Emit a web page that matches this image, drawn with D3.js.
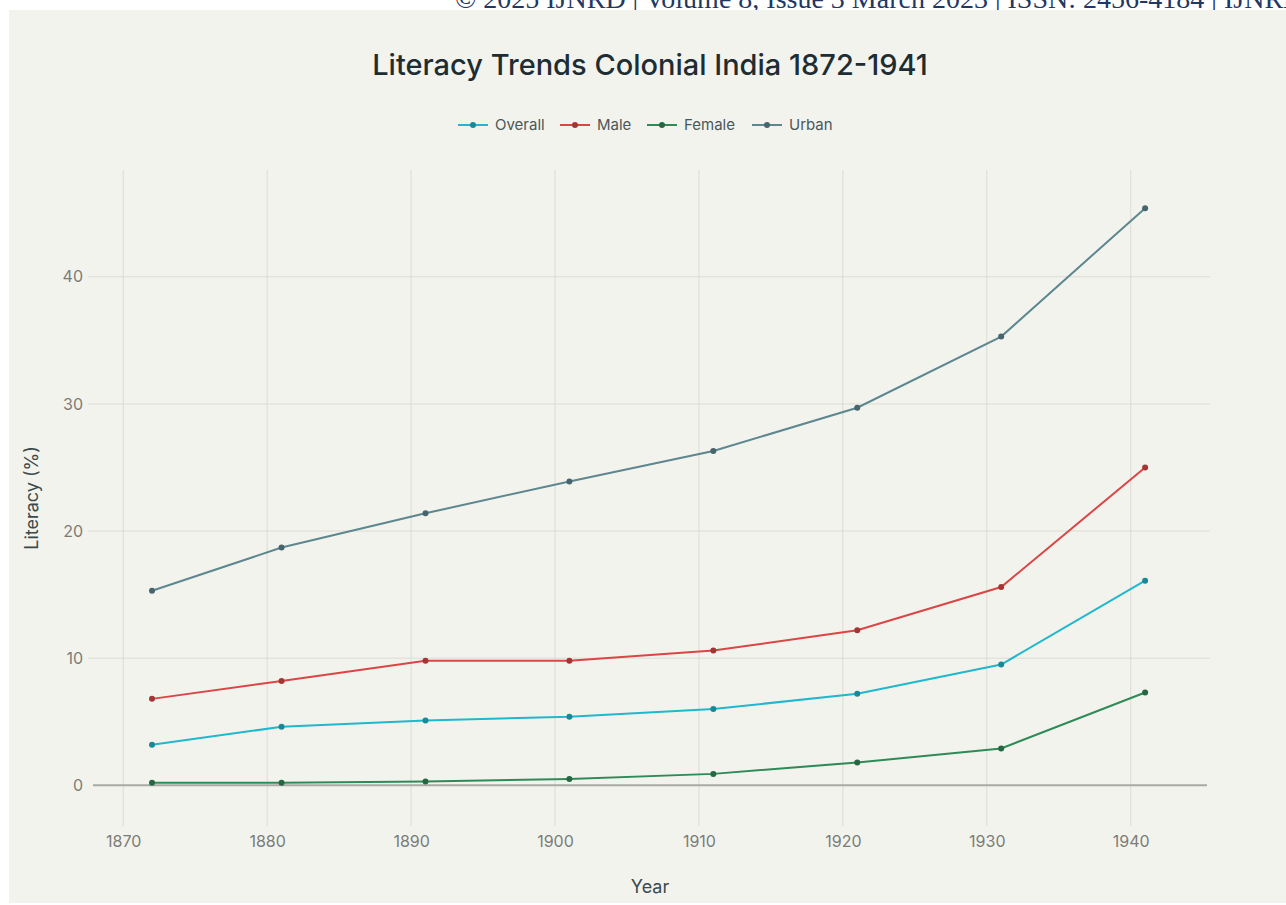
<!DOCTYPE html>
<html>
<head>
<meta charset="utf-8">
<script src="https://cdn.jsdelivr.net/npm/d3@7"></script>
<style>
  body { margin: 0; background: #fff; }
  svg { display: block; }
  .tick text { font-family: Inter, "Noto Sans", sans-serif; }
</style>
</head>
<body>
<svg id="chart" width="1286" height="905"></svg>
<script>
// census years and literacy values (%)
const years = [1872, 1881, 1891, 1901, 1911, 1921, 1931, 1941];
const overall = [3.2, 4.6, 5.1, 5.4, 6.0, 7.2, 9.5, 16.1];
const male = [6.8, 8.2, 9.8, 9.8, 10.6, 12.2, 15.6, 25.0];
const female = [0.2, 0.2, 0.3, 0.5, 0.9, 1.8, 2.9, 7.3];
const urban = [15.3, 18.7, 21.4, 23.9, 26.3, 29.7, 35.3, 45.4];
const seriesNames = ["Overall", "Male", "Female", "Urban"];
const seriesColors = ["#1FB8CD", "#DB4545", "#2E8B57", "#5D878F"];
const xTicks = [1870, 1880, 1890, 1900, 1910, 1920, 1930, 1940];
const yTicks = [0, 10, 20, 30, 40];

const series = [overall, male, female, urban].map((vals, i) => ({
  name: seriesNames[i],
  color: seriesColors[i],
  values: vals.map((v, j) => ({ year: years[j], value: v }))
}));

const width = 1286;
const height = 905;
const margin = { top: 170, right: 79, bottom: 79, left: 93 };
const innerWidth = width - margin.left - margin.right;
const innerHeight = height - margin.top - margin.bottom;

const svg = d3.select("#chart");

// page header (cut off at top, like the scan)
svg.append("text")
  .attr("x", 455)
  .attr("y", 8)
  .attr("font-family", "'Liberation Serif', 'DejaVu Serif', serif")
  .attr("font-size", 28)
  .attr("fill", "#1f3864")
  .text("© 2025 IJNRD | Volume 8, Issue 3 March 2023 | ISSN: 2456-4184 | IJNRD.ORG");

// chart background
svg.append("rect")
  .attr("x", 9)
  .attr("y", 10)
  .attr("width", width - 9)
  .attr("height", height - 12)
  .attr("fill", "#f3f3ee");

const xScale = d3.scaleLinear().domain([1867.9, 1945.3]).range([0, innerWidth]);
const yScale = d3.scaleLinear().domain([-3.2, 48.4]).range([innerHeight, 0]);

const g = svg.append("g").attr("transform", `translate(${margin.left},${margin.top})`);

// grid
g.append("g")
  .attr("class", "grid")
  .selectAll("line.v")
  .data(xTicks)
  .join("line")
  .attr("x1", (d) => xScale(d))
  .attr("x2", (d) => xScale(d))
  .attr("y1", 0)
  .attr("y2", innerHeight)
  .attr("stroke", "#dcdcd6")
  .attr("stroke-width", 1);

g.append("g")
  .selectAll("line")
  .data(yTicks.filter((d) => d !== 0))
  .join("line")
  .attr("x1", -5)
  .attr("x2", innerWidth + 3)
  .attr("y1", (d) => yScale(d))
  .attr("y2", (d) => yScale(d))
  .attr("stroke", "#dcdcd6")
  .attr("stroke-width", 1);

// zero line
g.append("line")
  .attr("x1", 0)
  .attr("x2", innerWidth)
  .attr("y1", yScale(0))
  .attr("y2", yScale(0))
  .attr("stroke", "#a9aaa4")
  .attr("stroke-width", 2);

// axes (labels only)
const xAxis = g.append("g")
  .attr("transform", `translate(0,${innerHeight})`)
  .call(d3.axisBottom(xScale).tickValues(xTicks).tickFormat(d3.format("d")).tickSize(0).tickPadding(10));
xAxis.select(".domain").remove();
xAxis.selectAll("text").attr("font-size", 16).attr("fill", "#7b7c78");

const yAxis = g.append("g")
  .call(d3.axisLeft(yScale).tickValues(yTicks).tickSize(0).tickPadding(10));
yAxis.select(".domain").remove();
yAxis.selectAll("text").attr("font-size", 16).attr("fill", "#7b7c78");

// axis titles
svg.append("text")
  .attr("x", margin.left + innerWidth / 2)
  .attr("y", 893)
  .attr("text-anchor", "middle")
  .attr("font-family", "Inter, sans-serif")
  .attr("font-size", 18)
  .attr("fill", "#3b4a4c")
  .text("Year");

svg.append("text")
  .attr("transform", `translate(38,${margin.top + innerHeight / 2}) rotate(-90)`)
  .attr("text-anchor", "middle")
  .attr("font-family", "Inter, sans-serif")
  .attr("font-size", 18)
  .attr("fill", "#3b4a4c")
  .text("Literacy (%)");

// lines
const line = d3.line()
  .x((d) => xScale(d.year))
  .y((d) => yScale(d.value));

const lines = g.append("g")
  .selectAll("g")
  .data(series)
  .join("g");

lines.append("path")
  .attr("d", (d) => line(d.values))
  .attr("fill", "none")
  .attr("stroke", (d) => d.color)
  .attr("stroke-width", 2);

lines.selectAll("circle")
  .data((d) => d.values.map((v) => ({ ...v, color: d.color })))
  .join("circle")
  .attr("cx", (d) => xScale(d.year))
  .attr("cy", (d) => yScale(d.value))
  .attr("r", 3)
  .attr("fill", (d) => d3.color(d.color).darker(0.8));

// title
svg.append("text")
  .attr("x", 650)
  .attr("y", 75)
  .attr("text-anchor", "middle")
  .attr("font-family", "Inter, sans-serif")
  .attr("font-weight", 500)
  .attr("font-size", 29)
  .attr("fill", "#1d2d33")
  .text("Literacy Trends Colonial India 1872-1941");

// legend
const legend = svg.append("g").attr("transform", "translate(0,125)");
const legendX = [458, 560, 647, 752];
const item = legend.selectAll("g")
  .data(series)
  .join("g")
  .attr("transform", (d, i) => `translate(${legendX[i]},0)`);
item.append("line")
  .attr("x1", 0).attr("x2", 30)
  .attr("stroke", (d) => d.color)
  .attr("stroke-width", 2);
item.append("circle")
  .attr("cx", 15)
  .attr("r", 3)
  .attr("fill", (d) => d3.color(d.color).darker(0.8));
item.append("text")
  .attr("x", 37)
  .attr("dy", "0.35em")
  .attr("font-family", "Inter, sans-serif")
  .attr("font-size", 15)
  .attr("fill", "#4a5759")
  .text((d) => d.name);
</script>
</body>
</html>
